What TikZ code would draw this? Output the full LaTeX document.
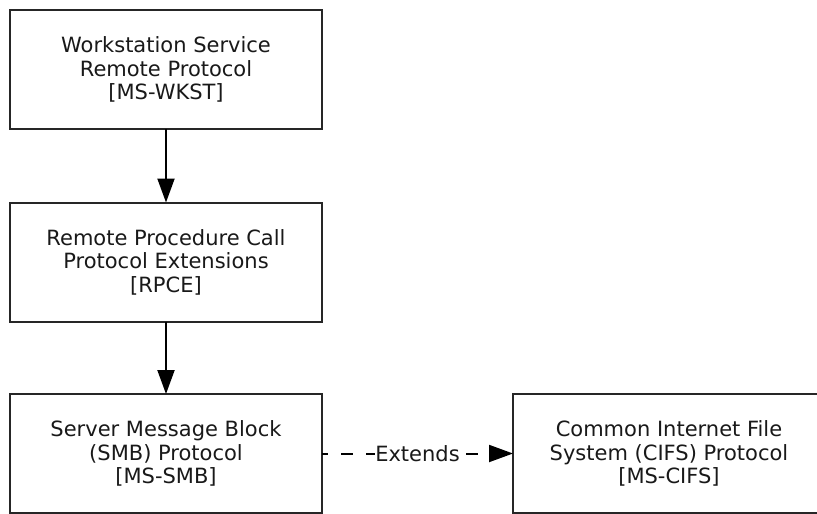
\documentclass[tikz,border=0pt]{standalone}
\usepackage{fontspec}
\setmainfont{DejaVu Sans}
\usetikzlibrary{arrows.meta}
\begin{document}
\begin{tikzpicture}[x=1pt,y=-1pt,
  box/.style={draw=black!85, line width=2pt, minimum width=312pt, minimum height=119pt,
    inner sep=0pt, outer sep=0pt, align=center, text=black!90,
    font=\fontsize{21}{23.5}\selectfont},
  conn/.style={draw=black, line width=2pt, -{Triangle[length=24pt,width=17pt]}},
  lbl/.style={fill=white, inner sep=0.5pt, text=black!90, font=\fontsize{21}{23.5}\selectfont}]
\useasboundingbox (0,0) rectangle (817,514);
\fill[white] (0,0) rectangle (817,514);
\node[box] (wkst) at (166,69.5) {Workstation Service\\Remote Protocol\\{[MS-WKST]}};
\node[box] (rpce) at (166,262) {Remote Procedure Call\\Protocol Extensions\\{[RPCE]}};
\node[box] (smb) at (166,453.5) {Server Message Block\\(SMB) Protocol\\{[MS-SMB]}};
\node[box] (cifs) at (669,453.5) {Common Internet File\\System (CIFS) Protocol\\{[MS-CIFS]}};
\draw[conn] (wkst) -- (rpce);
\draw[conn] (rpce) -- (smb);
\draw[conn, dash pattern=on 12pt off 13pt, dash phase=6pt] (smb) -- node[lbl] {Extends} (cifs);
\end{tikzpicture}
\end{document}
